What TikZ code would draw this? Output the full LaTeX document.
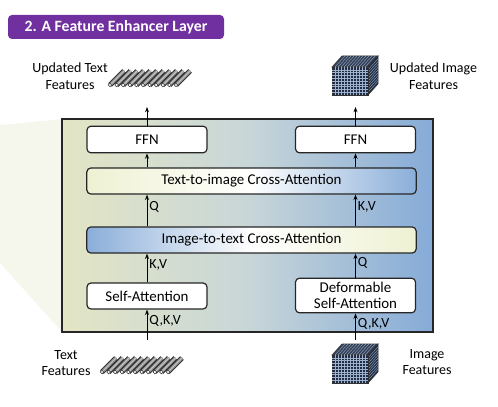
\documentclass[tikz,border=0pt]{standalone}
\usepackage{fontspec}
\setmainfont{Carlito}
\usetikzlibrary{positioning,arrows.meta}
\definecolor{titlepurple}{HTML}{7030A0}
\definecolor{paleyellow}{HTML}{F6F7EC}
\definecolor{layerleft}{HTML}{E3E5C4}
\definecolor{layermid}{HTML}{C8D6D8}
\definecolor{layerright}{HTML}{86ABD8}
\definecolor{crossyellow}{HTML}{EEF1D2}
\definecolor{crossblue}{HTML}{8AAED9}
\definecolor{cubenavy}{HTML}{1F2C45}
\definecolor{cubeline}{HTML}{9FB2CC}

\begin{document}
\begin{tikzpicture}[x=0.75pt,y=-0.75pt,
		blocknode/.style={draw=black!85,line width=0.9pt,rounded corners=3pt,fill=white,minimum width=90pt,minimum height=20pt,inner sep=1pt,align=center,font=\fontsize{11.2}{12.5}\selectfont},
		crossnode/.style={blocknode,minimum width=247pt,minimum height=19.5pt},
		labelnode/.style={align=center,font=\fontsize{10.5}{12.5}\selectfont},
		arrowlabel/.style={right,inner sep=1.5pt,pos=0.62,font=\fontsize{10.5}{12}\selectfont},
		flow/.style={-{Stealth[length=4pt,width=3pt]},line width=0.6pt}]
		\useasboundingbox (0,0) rectangle (498,406);

		% zoom wedge and layer frame
		\fill[paleyellow] (0,125) -- (62,119) -- (62,332) -- (0,263) -- cycle;
		\node[draw=black!85,line width=1.1pt,minimum width=278.25pt,minimum height=159.75pt,left color=layerleft,right color=layerright,middle color=layermid]	(layer)	at (247.5,225.5)	{};

		\node[fill=titlepurple,rounded corners=3pt,minimum width=162pt,minimum height=18pt,text=white,font=\fontsize{11.8}{13}\selectfont\bfseries]	(title)	at (116,27)	{2. A Feature Enhancer Layer};

		% blocks
		\node[blocknode]									(ffnL)		at (147,139.5)		{FFN};
		\node[blocknode]									(ffnR)		at (355.5,139.5)	{FFN};
		\node[crossnode,left color=crossyellow,right color=crossblue,middle color=white]	(t2i)	at (251.5,181)	{Text-to-image Cross-Attention};
		\node[crossnode,left color=crossblue,right color=crossyellow,middle color=white]	(i2t)	at (251.5,240)	{Image-to-text Cross-Attention};
		\node[blocknode,minimum height=19.5pt]				(selfatt)	at (147,296)		{Self-Attention};
		\node[blocknode,minimum height=26pt]				(deform)	at (355.5,295.5)	{Deformable\\Self-Attention};

		\coordinate (outL) at (147,107);
		\coordinate (outR) at (355.5,107);
		\coordinate (inL) at (147,340);
		\coordinate (inR) at (355.5,340);

		% connectors
		\draw[flow] (ffnL.north) -- (outL);
		\draw[flow] (ffnR.north) -- (outR);
		\draw[flow] (t2i.north -| ffnL) -- (ffnL.south);
		\draw[flow] (t2i.north -| ffnR) -- (ffnR.south);
		\draw[flow] (i2t.north -| ffnL) -- node[arrowlabel] {Q} (t2i.south -| ffnL);
		\draw[flow] (i2t.north -| ffnR) -- node[arrowlabel] {K,V} (t2i.south -| ffnR);
		\draw[flow] (selfatt.north) -- node[arrowlabel] {K,V} (i2t.south -| selfatt);
		\draw[flow] (deform.north) -- node[arrowlabel] {Q} (i2t.south -| deform);
		\draw[flow] (inL) -- node[arrowlabel] {Q,K,V} (selfatt.south);
		\draw[flow] (inR) -- node[arrowlabel] {Q,K,V} (deform.south);

		% text feature rods
		\foreach \rx/\ry in {110/85, 102/372} {
			\foreach \i in {0,...,10} {
				\draw[black!80,line width=3.9pt] ({\rx+6.6*\i},\ry) -- ++(14,-14);
				\draw[black!40,line width=2.2pt] ({\rx+6.6*\i},\ry) -- ++(14,-14);
				\draw[white!80!black,line width=0.5pt] ({\rx+6.6*\i+0.7},\ry-0.7) -- ++(14,-14);
				\draw[black!80,fill=white,line width=0.4pt] ({\rx+6.6*\i},\ry) circle (1.4pt);
			}
		}

		% image feature cubes
		\foreach \cx/\cy in {332/67, 332/355} {
			\filldraw[fill=cubenavy!90!white,draw=black!80,line width=0.4pt] (\cx,\cy) -- ++(10,-11) -- ++(36,0) -- ++(-10,11) -- cycle;
			\filldraw[fill=cubenavy,draw=black!80,line width=0.4pt] (\cx+36,\cy) -- ++(10,-11) -- ++(0,28) -- ++(-10,11) -- cycle;
			\foreach \k in {1,...,11}
				\draw[cubeline,line width=0.25pt] ({\cx+3*\k},\cy) -- ++(10,-11);
			\foreach \k in {1,...,9}
				\draw[cubeline,line width=0.25pt] ({\cx+36},{\cy+2.8*\k}) -- ++(10,-11);
			\filldraw[fill=cubenavy,draw=black!80,line width=0.4pt] (\cx,\cy) rectangle ++(36,28);
			\foreach \k in {1,...,11}
				\draw[cubeline,line width=0.3pt] ({\cx+3*\k},\cy) -- ++(0,28);
			\foreach \k in {1,...,9}
				\draw[cubeline,line width=0.3pt] (\cx,{\cy+2.8*\k}) -- ++(36,0);
		}

		% feature labels
		\node[labelnode]	(updtext)	at (70,76)		{Updated Text\\Features};
		\node[labelnode]	(updimage)	at (433.5,76)	{Updated Image\\Features};
		\node[labelnode]	(text)		at (66,363)		{Text\\Features};
		\node[labelnode]	(image)		at (427,362)	{Image\\Features};
	\end{tikzpicture}
\end{document}
